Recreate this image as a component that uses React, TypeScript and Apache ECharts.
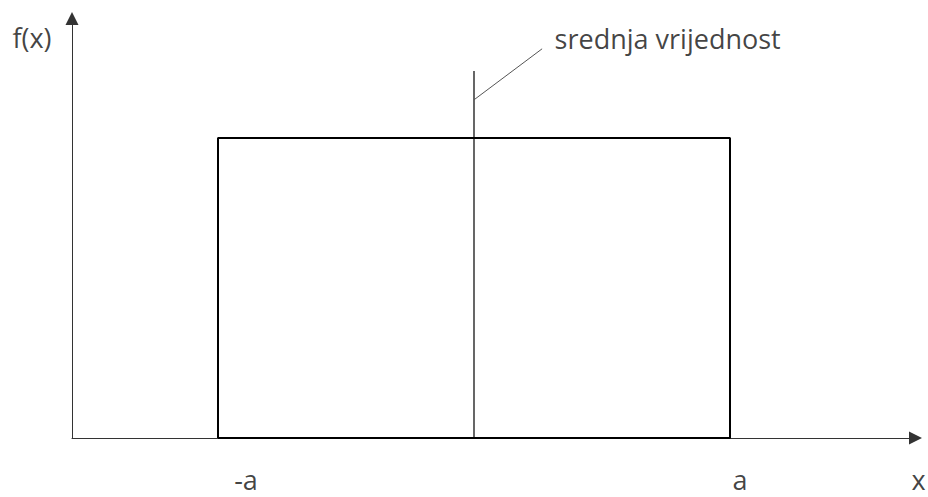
import React, { useEffect, useRef } from "react";
import * as echarts from "echarts";

// Uniform distribution: f(x) is constant between -a and a (a = 1)
const rectCorners: [number, number][] = [
  [-1, 0],
  [-1, 1],
  [1, 1],
  [1, 0],
  [-1, 0],
];
const meanLine: [number, number][] = [
  [0, 0],
  [0, 1.223],
];
const leaderLine: [number, number][] = [
  [0, 1.127],
  [0.266, 1.297],
];
const tickValues = [-1, 1];
const tickLabels = ["-a", "a"];
const xAxisName = "x";
const yAxisName = "f(x)";
const meanLabel = "srednja vrijednost";

const X_MIN = -1.5703;
const X_MAX = 1.7246;
const Y_MIN = 0;
const Y_MAX = 1.398;

const FONT = "'Open Sans', 'Noto Sans', sans-serif";

export default function App() {
  const ref = useRef<HTMLDivElement>(null);

  useEffect(() => {
    if (!ref.current) return;
    const chart = echarts.init(ref.current, undefined, { renderer: "svg" });

    const textStyle = {
      fontFamily: FONT,
      fontSize: 27,
      lineHeight: 22,
      color: "#111",
    };

    const BOTTOM_DY = 41;
    const tickOffsets: [number, number][] = [
      [28, BOTTOM_DY],
      [10, BOTTOM_DY],
    ];

    chart.setOption({
      animation: false,
      backgroundColor: "#ffffff",
      grid: { left: 72, right: 12.5, top: 18.5, bottom: 59, containLabel: false },
      xAxis: {
        type: "value",
        min: X_MIN,
        max: X_MAX,
        axisLine: {
          show: true,
          onZero: false,
          symbol: ["none", "triangle"],
          symbolSize: [13, 13],
          lineStyle: { color: "#333", width: 1 },
        },
        axisTick: { show: false },
        axisLabel: { show: false },
        splitLine: { show: false },
      },
      yAxis: {
        type: "value",
        min: Y_MIN,
        max: Y_MAX,
        axisLine: {
          show: true,
          onZero: false,
          symbol: ["none", "triangle"],
          symbolSize: [13, 13],
          lineStyle: { color: "#333", width: 1 },
        },
        axisTick: { show: false },
        axisLabel: { show: false },
        splitLine: { show: false },
      },
      series: [
        {
          type: "line",
          data: rectCorners,
          symbol: "none",
          lineStyle: { color: "#000", width: 2 },
          z: 3,
        },
        {
          type: "line",
          data: meanLine,
          symbol: "none",
          lineStyle: { color: "#000", width: 1.2 },
          z: 3,
        },
        {
          type: "line",
          data: leaderLine,
          symbol: "none",
          lineStyle: { color: "#555", width: 1 },
          z: 3,
        },
        {
          type: "scatter",
          symbolSize: 1,
          itemStyle: { color: "transparent" },
          silent: true,
          data: [
            ...tickValues.map((v, i) => ({
              value: [v, 0],
              label: {
                show: true,
                position: "inside",
                formatter: tickLabels[i],
                offset: tickOffsets[i],
                ...textStyle,
              },
            })),
            {
              value: [X_MAX, 0],
              label: {
                show: true,
                position: "inside",
                formatter: xAxisName,
                offset: [3, BOTTOM_DY],
                ...textStyle,
              },
            },
            {
              value: [X_MIN, Y_MAX],
              label: {
                show: true,
                position: "inside",
                formatter: yAxisName,
                offset: [-40, 19],
                ...textStyle,
              },
            },
            {
              value: leaderLine[1],
              label: {
                show: true,
                position: "right",
                distance: 12,
                formatter: meanLabel,
                offset: [0, -10.5],
                ...textStyle,
              },
            },
          ],
        },
      ],
    });

    return () => chart.dispose();
  }, []);

  return (
    <div
      ref={ref}
      style={{ position: "fixed", left: 0, top: 0, width: 928, height: 497, background: "#fff" }}
    />
  );
}
